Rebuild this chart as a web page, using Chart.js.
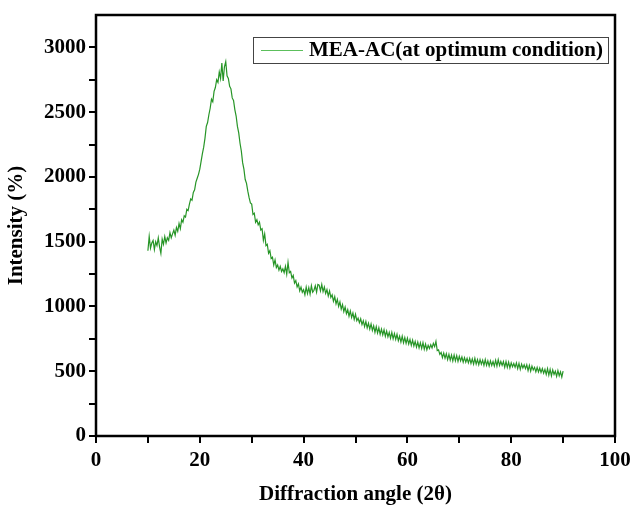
<!DOCTYPE html>
<html>
<head>
<meta charset="utf-8">
<script src="https://cdn.jsdelivr.net/npm/chart.js@4/dist/chart.umd.min.js"></script>
<style>
html,body{margin:0;padding:0;background:#fff;}
#wrap{width:633px;height:507px;}
</style>
</head>
<body>
<div id="wrap"><canvas id="c" width="633" height="507"></canvas></div>
<script>
const seriesLabel = 'MEA-AC(at optimum condition)';
const xTitle = 'Diffraction angle (2\u03B8)';
const yTitle = 'Intensity (%)';
const angleStart = 10, angleStep = 0.25;
const intensity = [
1430,1540,1450,1490, 1510,1440,1500,1470, 1530,1460,1410,1520, 1480,1540,1490,1530,
1510,1570,1530,1560, 1590,1550,1610,1580, 1640,1600,1670,1650, 1700,1690,1750,1740,
1790,1830,1820,1880, 1900,1960,1990,2020, 2060,2120,2180,2230, 2300,2390,2420,2480,
2530,2600,2580,2660, 2690,2750,2730,2810, 2760,2880,2740,2850, 2890,2780,2760,2700,
2680,2610,2590,2520, 2470,2390,2340,2260, 2200,2110,2060,1980, 1950,1890,1840,1800,
1790,1710,1720,1650, 1670,1630,1650,1590, 1600,1510,1560,1470, 1480,1410,1430,1370,
1380,1320,1360,1300, 1320,1280,1310,1270, 1290,1260,1310,1250, 1340,1260,1270,1220,
1240,1180,1200,1150, 1175,1120,1150,1110, 1130,1090,1150,1100, 1145,1095,1160,1110,
1125,1160,1110,1170, 1165,1120,1170,1115, 1150,1100,1130,1080, 1120,1070,1090,1040,
1075,1020,1055,1000, 1035,980,1015,960, 995,945,975,925, 965,915,950,900,
940,890,910,875, 905,860,890,845, 885,835,870,825, 865,815,850,800,
845,795,835,785, 825,780,820,770, 810,765,800,755, 800,750,790,745,
785,735,770,725, 770,720,760,715, 755,710,745,700, 740,695,730,685,
725,680,720,675, 720,670,710,665, 700,675,705,680, 715,690,730,660,
665,630,645,605, 640,600,635,590, 630,585,625,580, 625,580,620,575,
615,580,610,570, 605,570,600,565, 600,560,595,555, 600,555,590,550,
590,555,585,545, 590,545,580,540, 580,545,575,540, 585,540,590,545,
575,545,575,530, 575,530,570,525, 565,535,560,530, 565,520,560,515,
555,525,550,520, 550,505,545,500, 540,510,530,495, 530,495,525,490,
520,485,515,475, 520,470,515,465, 510,475,500,460, 505,465,495,455,
500
];
const xTicks = [0,20,40,60,80,100];
const yTicks = [0,500,1000,1500,2000,2500,3000];

const points = intensity.map((v,i)=>({x: angleStart + i*angleStep, y: v}));
const FONT = "'Liberation Serif', 'Times New Roman', serif";

const frame = {
  id:'frame',
  afterDraw(chart){
    const {ctx, chartArea:a} = chart;
    ctx.save();
    ctx.strokeStyle='#000'; ctx.lineWidth=2.5;
    ctx.strokeRect(a.left, a.top, a.right-a.left, a.bottom-a.top);
    // legend box
    const x0=253, y0=37, w=355, h=26;
    ctx.lineWidth=1; ctx.strokeStyle='#444';
    ctx.fillStyle='#fff';
    ctx.fillRect(x0,y0,w,h);
    ctx.strokeRect(x0+0.5,y0+0.5,w,h);
    ctx.strokeStyle='#5cbf5c'; ctx.lineWidth=1;
    ctx.beginPath(); ctx.moveTo(261,50.5); ctx.lineTo(303,50.5); ctx.stroke();
    ctx.fillStyle='#000'; ctx.font="bold 21px "+FONT; ctx.textBaseline='middle';
    ctx.fillText(chart.data.datasets[0].label, 309, 51);
    ctx.restore();
  }
};

new Chart(document.getElementById('c'), {
  type:'line',
  data:{datasets:[{label:seriesLabel, data:points, borderColor:'rgba(0,130,0,0.85)', borderWidth:1.2, pointRadius:0, tension:0, fill:false}]},
  options:{
    responsive:false, animation:false,
    layout:{padding:{top:15,right:18,left:0,bottom:0}},
    plugins:{legend:{display:false}, tooltip:{enabled:false}},
    scales:{
      x:{type:'linear', min:0, max:100,
        afterBuildTicks(s){ s.ticks=[0,10,20,30,40,50,60,70,80,90,100].map(v=>({value:v})); },
        afterFit(s){ s.height=71; s.paddingRight=0; s.paddingLeft=0; },
        border:{display:false},
        grid:{drawOnChartArea:false, drawTicks:true, tickLength:7, color:'#000', lineWidth:2},
        ticks:{color:'#000', font:{family:FONT, size:21, weight:'bold'}, padding:5, maxRotation:0, autoSkip:false,
          callback:(v)=> xTicks.includes(v)? String(v):''},
        title:{display:true, text:xTitle, color:'#000', font:{family:FONT, size:21, weight:'bold'}, padding:{top:4, bottom:0}}
      },
      y:{type:'linear', min:0, max:3250,
        afterBuildTicks(s){ const t=[]; for(let v=0; v<=3000; v+=250) t.push({value:v}); s.ticks=t; },
        afterFit(s){ s.width=96; s.paddingTop=0; s.paddingBottom=0; },
        border:{display:false},
        grid:{drawOnChartArea:false, drawTicks:true, tickLength:7, color:'#000', lineWidth:2},
        ticks:{color:'#000', font:{family:FONT, size:21, weight:'bold'}, padding:3, autoSkip:false,
          callback:(v)=> yTicks.includes(v)? String(v):''},
        title:{display:true, text:yTitle, color:'#000', font:{family:FONT, size:21, weight:'bold'}, padding:{bottom:2}}
      }
    }
  },
  plugins:[frame]
});
</script>
</body>
</html>
